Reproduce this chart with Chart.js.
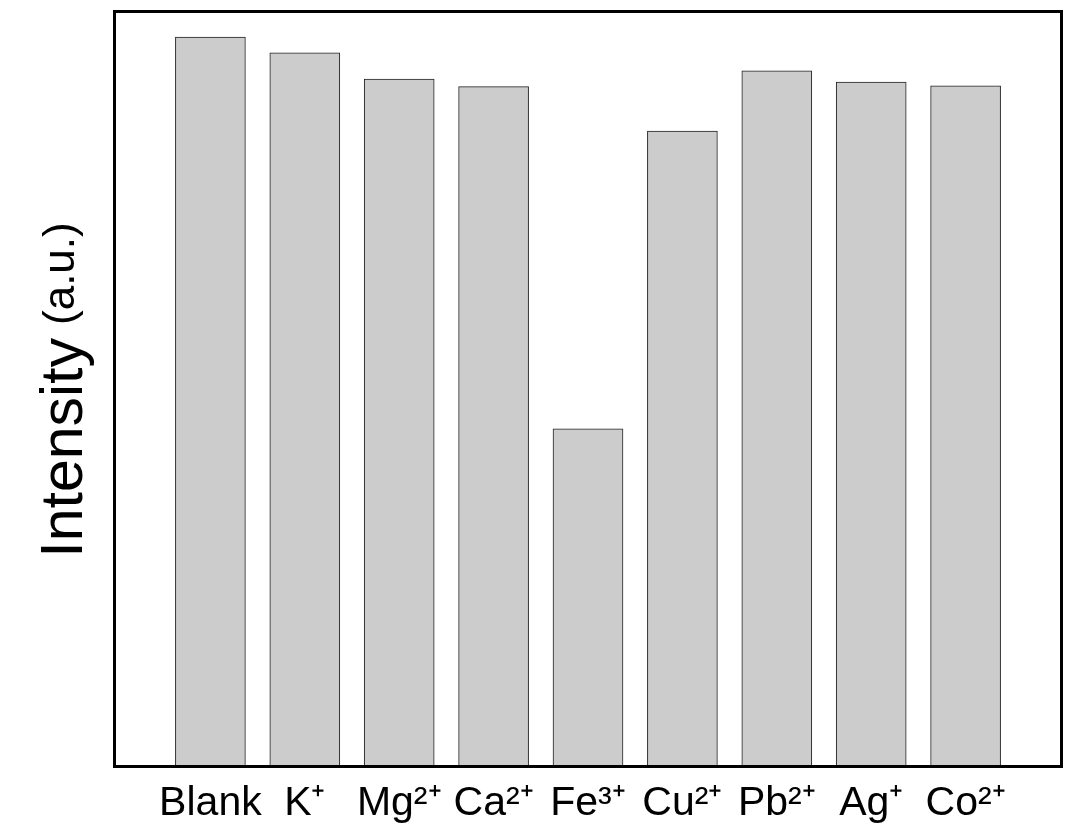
<!DOCTYPE html>
<html>
<head>
<meta charset="utf-8">
<script src="https://cdn.jsdelivr.net/npm/chart.js@4.4.1/dist/chart.umd.min.js"></script>
<style>
    html, body { margin: 0; padding: 0; background: #fff; }
    #wrap { width: 1088px; height: 836px; }
</style>
</head>
<body>
<div id="wrap"><canvas id="ionChart" width="1088" height="836"></canvas></div>
<script>
// Datos del gráfico
const ions = ['Blank', 'K\u207A', 'Mg\u00B2\u207A', 'Ca\u00B2\u207A', 'Fe\u00B3\u207A', 'Cu\u00B2\u207A', 'Pb\u00B2\u207A', 'Ag\u207A', 'Co\u00B2\u207A'];
const intensity = [96.8, 94.7, 91.2, 90.2, 44.7, 84.3, 92.3, 90.8, 90.3];
const yTitleMain = 'Intensity';
const yTitleUnit = '(a.u.)';

// Marco negro alrededor del área del gráfico
const frame = {
    id: 'frame',
    afterDatasetsDraw(chart) {
        const { ctx, chartArea: a } = chart;
        ctx.save();
        ctx.strokeStyle = '#000';
        ctx.lineWidth = 3;
        ctx.strokeRect(a.left - 1.5, a.top - 1.5, a.right - a.left + 3, a.bottom - a.top + 3);
        ctx.restore();
    }
};

// Título del eje Y con dos tamaños de letra
const yTitle = {
    id: 'yTitle',
    afterDraw(chart) {
        const { ctx } = chart;
        const big = '59px "Liberation Sans", Arial, sans-serif';
        const small = '44px "Liberation Sans", Arial, sans-serif';
        const gap = 13;
        ctx.save();
        ctx.translate(66, 390);
        ctx.rotate(-Math.PI / 2);
        ctx.fillStyle = '#000';
        ctx.textBaseline = 'middle';
        ctx.textAlign = 'left';
        ctx.font = big;
        const w1 = ctx.measureText(yTitleMain).width;
        ctx.font = small;
        const w2 = ctx.measureText(yTitleUnit).width;
        const start = -(w1 + gap + w2) / 2;
        ctx.font = big;
        ctx.fillText(yTitleMain, start, 0);
        ctx.font = small;
        ctx.fillText(yTitleUnit, start + w1 + gap, -4);
        ctx.restore();
    }
};

const ctx = document.getElementById('ionChart').getContext('2d');
new Chart(ctx, {
    type: 'bar',
    data: {
        datasets: [{
            data: intensity.map((v, i) => ({ x: i + 1, y: v })),
            backgroundColor: '#cccccc',
            borderColor: '#222222',
            borderWidth: 1,
            barThickness: 70
        }]
    },
    options: {
        responsive: false,
        animation: false,
        layout: { padding: { left: 0, top: 13, right: 28, bottom: 0 } },
        plugins: {
            legend: { display: false },
            tooltip: { enabled: false }
        },
        scales: {
            x: {
                type: 'linear',
                min: 0,
                max: 10,
                offset: false,
                bounds: 'data',
                grid: { display: false, drawTicks: false, offset: false },
                border: { display: false },
                afterFit: (scale) => { scale.height = 71; },
                afterBuildTicks: (scale) => {
                    scale.ticks = ions.map((_, i) => ({ value: i + 1 }));
                },
                ticks: {
                    autoSkip: false,
                    maxRotation: 0,
                    padding: 14,
                    color: '#000',
                    font: { family: '"Liberation Sans", Arial, sans-serif', size: 41 },
                    callback: (v) => ions[v - 1] || ''
                }
            },
            y: {
                min: 0,
                max: 100,
                grid: { display: false, drawTicks: false },
                border: { display: false },
                ticks: { display: false },
                afterFit: (scale) => { scale.width = 116; }
            }
        }
    },
    plugins: [frame, yTitle]
});
</script>
</body>
</html>
